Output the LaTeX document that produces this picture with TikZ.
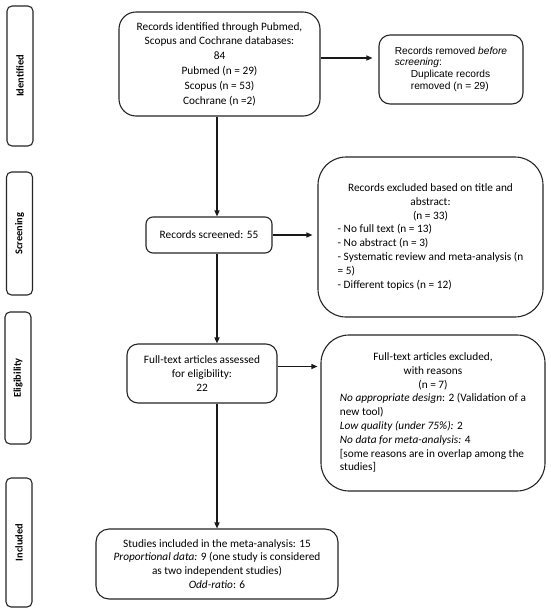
\documentclass[tikz,border=0pt]{standalone}
\usepackage{fontspec}
\setmainfont{Carlito}
\newfontfamily\arialf{Liberation Sans}
\usetikzlibrary{arrows.meta,calc}
\newcommand{\cl}[1]{\multicolumn{1}{@{}c@{}}{#1}}
\begin{document}
\begin{tikzpicture}[x=1pt,y=-1pt,
  box/.style={draw=black!85, line width=1.1pt, inner sep=0pt, align=center,
    font=\fontsize{11.3}{13.8}\selectfont},
  side/.style={draw=black!85, line width=1.1pt, inner sep=0pt, rounded corners=5pt,
    minimum width=26pt},
  sidetext/.style={font=\bfseries\fontsize{10.4}{12}\selectfont, rotate=90},
  arr/.style={line width=1.2pt, draw=black!90, -{Triangle[length=6pt,width=5pt]}}]
\useasboundingbox (0,0) rectangle (550,611);
\fill[white] (0,0) rectangle (550,611);

% side labels
\node[side, minimum height=140pt] (idb) at (20,76) {};
\node[sidetext] (idt) at (idb.center) {Identified};
\node[side, minimum height=123pt] (scb) at (19.5,233.5) {};
\node[sidetext] (sct) at (scb.center) {Screening};
\node[side, minimum height=132pt] (elb) at (18,378) {};
\node[sidetext] (elt) at (elb.center) {Eligibility};
\node[side, minimum height=129pt] (inb) at (19,542.5) {};
\node[sidetext] (int) at (inb.center) {Included};

% main boxes
\node[box, rounded corners=17pt, minimum width=201pt, minimum height=104pt,
  font=\fontsize{11.3}{14.8}\selectfont] (top) at (219.5,64)
  {Records identified through Pubmed,\\Scopus and Cochrane databases:\\84\\Pubmed (n = 29)\\Scopus (n = 53)\\Cochrane (n =2)};

\node[box, rounded corners=11pt, minimum width=144pt, minimum height=69pt,
  font=\arialf\fontsize{10.2}{11.7}\selectfont] (rem) at (451,69.5)
  {\begin{tabular}{@{}l@{}}
   Records removed \textit{before}\\
   \textit{screening}:\\
   \hspace{16pt}Duplicate records\\
   \hspace{16pt}removed (n = 29)
   \end{tabular}};

\node[box, rounded corners=7pt, minimum width=126pt, minimum height=36pt] (scr) at (209,235)
  {Records screened: 55};

\node[box, rounded corners=28pt, minimum width=225pt, minimum height=160pt] (ex1) at (430.5,237)
  {\begin{tabular}{@{}l@{}}
   \cl{Records excluded based on title and}\\
   \cl{abstract:}\\
   \cl{(n = 33)}\\
   - No full text (n = 13)\\
   - No abstract (n = 3)\\
   - Systematic review and meta-analysis (n\\
   = 5)\\
   - Different topics (n = 12)
   \end{tabular}};

\node[box, rounded corners=11pt, minimum width=150pt, minimum height=59pt] (full) at (202,373.5)
  {Full-text articles assessed\\for eligibility:\\22};

\node[box, rounded corners=28pt, minimum width=224pt, minimum height=156pt] (ex2) at (433,413)
  {\begin{tabular}{@{}l@{}}
   \cl{Full-text articles excluded,}\\
   \cl{with reasons}\\
   \cl{(n = 7)}\\
   \textit{No appropriate design}: 2 (Validation of a\\
   new tool)\\
   \textit{Low quality (under 75\%):} 2\\
   \textit{No data for meta-analysis:} 4\\
   {[}some reasons are in overlap among the\\
   studies]
   \end{tabular}};

\node[box, rounded corners=13pt, minimum width=242pt, minimum height=70pt] (incl) at (217,564)
  {Studies included in the meta-analysis: 15\\
   \textit{Proportional data:} 9 (one study is considered\\
   as two independent studies)\\
   \textit{Odd-ratio}: 6};

% spine coordinate
\coordinate (spine) at (217,0);

% connectors
\draw[arr] (top.south -| spine) -- (scr.north -| spine);
\draw[arr] (scr.south -| spine) -- (full.north -| spine);
\draw[arr] (full.south -| spine) -- (incl.north -| spine);

\draw[arr, shorten >=6pt] ([yshift=6pt]top.east) -- ([yshift=6pt]top.east -| rem.west);
\draw[arr, shorten >=5pt] (scr.east) -- (scr.east -| ex1.west);
\draw[arr, shorten >=3pt] ([yshift=7pt]full.east) -- ([yshift=7pt]full.east -| ex2.west);
\end{tikzpicture}
\end{document}
